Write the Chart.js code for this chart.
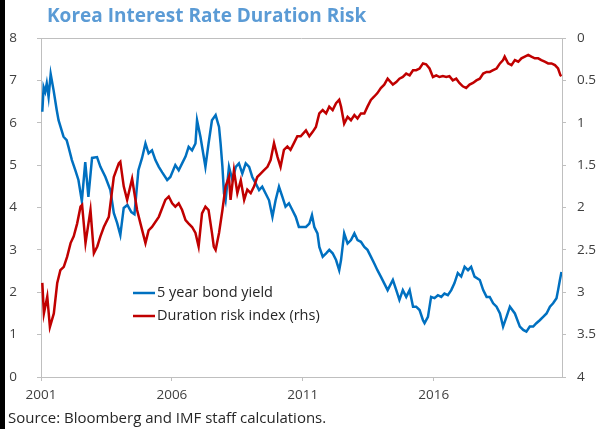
<!DOCTYPE html>
<html>
<head>
<meta charset="utf-8">
<script src="https://cdn.jsdelivr.net/npm/chart.js@4.4.1/dist/chart.umd.min.js"></script>
<style>
  html, body { margin: 0; padding: 0; background: #fff; }
  #wrap { position: relative; width: 605px; height: 429px; }
</style>
</head>
<body>
<div id="wrap"><canvas id="durChart" width="605" height="429"></canvas></div>
<script>
// values (x in decimal years)
const chartTitle = "Korea Interest Rate Duration Risk";
const sourceNote = "Source: Bloomberg and IMF staff calculations.";
const seriesNames = ["5 year bond yield", "Duration risk index (rhs)"];
const xTicks = [2001, 2006, 2011, 2016];

const blueYears = [2001.05, 2001.10, 2001.16, 2001.22, 2001.29, 2001.37, 2001.48, 2001.60, 2001.67, 2001.86,
  2001.98, 2002.05, 2002.18, 2002.31, 2002.43, 2002.56, 2002.69, 2002.81, 2002.95, 2003.14,
  2003.27, 2003.46, 2003.65, 2003.78, 2003.91, 2004.03, 2004.16, 2004.30, 2004.45, 2004.57,
  2004.72, 2004.86, 2004.99, 2005.11, 2005.24, 2005.37, 2005.50, 2005.63, 2005.82, 2005.94,
  2006.13, 2006.26, 2006.39, 2006.52, 2006.64, 2006.77, 2006.90, 2006.96, 2007.09, 2007.28,
  2007.40, 2007.53, 2007.67, 2007.80, 2007.86, 2007.93, 2007.99, 2008.05, 2008.18, 2008.31,
  2008.44, 2008.56, 2008.69, 2008.82, 2008.95, 2009.07, 2009.20, 2009.33, 2009.45, 2009.58,
  2009.71, 2009.84, 2009.96, 2010.09, 2010.22, 2010.34, 2010.47, 2010.60, 2010.73, 2010.85,
  2010.99, 2011.12, 2011.25, 2011.35, 2011.44, 2011.56, 2011.63, 2011.76, 2011.89, 2012.01,
  2012.14, 2012.27, 2012.39, 2012.46, 2012.58, 2012.71, 2012.84, 2012.97, 2013.09, 2013.22,
  2013.35, 2013.47, 2013.60, 2013.73, 2013.85, 2013.98, 2014.11, 2014.24, 2014.44, 2014.57,
  2014.69, 2014.82, 2014.95, 2015.08, 2015.21, 2015.33, 2015.46, 2015.59, 2015.65, 2015.78,
  2015.90, 2016.03, 2016.16, 2016.29, 2016.41, 2016.54, 2016.67, 2016.79, 2016.92, 2017.05,
  2017.18, 2017.31, 2017.43, 2017.56, 2017.76, 2017.89, 2018.02, 2018.14, 2018.27, 2018.40,
  2018.53, 2018.65, 2018.78, 2018.91, 2019.10, 2019.29, 2019.42, 2019.54, 2019.67, 2019.80,
  2019.92, 2020.05, 2020.18, 2020.31, 2020.44, 2020.56, 2020.69, 2020.75, 2020.82, 2020.88];
const bondYield = [6.26, 6.84, 6.73, 6.93, 6.61, 7.15, 6.77, 6.30, 6.06, 5.67,
  5.59, 5.43, 5.12, 4.88, 4.65, 4.15, 5.07, 4.25, 5.17, 5.19,
  4.96, 4.72, 4.41, 3.87, 3.63, 3.35, 3.99, 4.06, 3.89, 3.84,
  4.88, 5.17, 5.51, 5.28, 5.35, 5.12, 4.96, 4.83, 4.65, 4.72,
  5.00, 4.88, 5.04, 5.20, 5.43, 5.35, 5.51, 6.06, 5.67, 4.96,
  5.51, 6.06, 6.18, 5.90, 5.51, 4.96, 4.33, 4.17, 4.96, 4.65,
  4.96, 5.04, 4.80, 5.04, 4.96, 4.72, 4.57, 4.41, 4.49, 4.33,
  4.17, 3.78, 4.17, 4.49, 4.25, 4.02, 4.10, 3.94, 3.78, 3.54,
  3.54, 3.54, 3.62, 3.82, 3.54, 3.39, 3.07, 2.84, 2.92, 3.00,
  2.92, 2.76, 2.52, 2.76, 3.39, 3.15, 3.23, 3.39, 3.23, 3.19,
  3.07, 3.00, 2.84, 2.68, 2.52, 2.37, 2.21, 2.05, 2.29, 2.05,
  1.82, 2.05, 1.89, 2.05, 1.66, 1.66, 1.58, 1.34, 1.27, 1.42,
  1.89, 1.86, 1.93, 1.89, 1.97, 1.93, 2.05, 2.21, 2.45, 2.37,
  2.60, 2.52, 2.60, 2.37, 2.29, 2.05, 1.89, 1.89, 1.74, 1.66,
  1.50, 1.19, 1.42, 1.66, 1.50, 1.19, 1.11, 1.07, 1.19, 1.19,
  1.27, 1.34, 1.42, 1.50, 1.66, 1.74, 1.86, 2.05, 2.29, 2.48];

const redYears = [2001.05, 2001.11, 2001.24, 2001.34, 2001.49, 2001.62, 2001.74, 2001.87, 2002.00, 2002.13,
  2002.25, 2002.38, 2002.51, 2002.57, 2002.70, 2002.89, 2003.02, 2003.15, 2003.27, 2003.40,
  2003.59, 2003.78, 2003.97, 2004.03, 2004.16, 2004.29, 2004.48, 2004.67, 2004.80, 2004.99,
  2005.11, 2005.24, 2005.50, 2005.75, 2005.88, 2006.01, 2006.13, 2006.26, 2006.39, 2006.52,
  2006.64, 2006.77, 2006.90, 2007.02, 2007.15, 2007.28, 2007.40, 2007.53, 2007.60, 2007.67,
  2007.80, 2007.93, 2008.05, 2008.18, 2008.24, 2008.37, 2008.50, 2008.63, 2008.76, 2008.88,
  2009.01, 2009.14, 2009.26, 2009.39, 2009.52, 2009.65, 2009.77, 2009.90, 2010.03, 2010.15,
  2010.28, 2010.41, 2010.53, 2010.66, 2010.79, 2010.92, 2011.12, 2011.25, 2011.37, 2011.50,
  2011.63, 2011.76, 2011.89, 2012.01, 2012.14, 2012.27, 2012.39, 2012.46, 2012.58, 2012.71,
  2012.84, 2012.97, 2013.09, 2013.22, 2013.35, 2013.47, 2013.60, 2013.73, 2013.85, 2013.98,
  2014.11, 2014.24, 2014.44, 2014.57, 2014.69, 2014.82, 2014.95, 2015.08, 2015.21, 2015.33,
  2015.46, 2015.59, 2015.71, 2015.84, 2015.97, 2016.10, 2016.22, 2016.35, 2016.48, 2016.60,
  2016.73, 2016.86, 2016.98, 2017.11, 2017.24, 2017.37, 2017.50, 2017.63, 2017.76, 2017.89,
  2018.02, 2018.14, 2018.27, 2018.40, 2018.53, 2018.65, 2018.71, 2018.84, 2018.97, 2019.10,
  2019.23, 2019.35, 2019.48, 2019.61, 2019.73, 2019.86, 2019.99, 2020.11, 2020.24, 2020.37,
  2020.50, 2020.63, 2020.75, 2020.84, 2020.88];
const durationRisk = [2.89, 3.25, 3.05, 3.41, 3.25, 2.89, 2.74, 2.70, 2.58, 2.42,
  2.34, 2.19, 1.99, 1.97, 2.42, 2.03, 2.54, 2.46, 2.34, 2.23,
  2.11, 1.64, 1.48, 1.46, 1.75, 1.91, 1.66, 2.03, 2.19, 2.42,
  2.27, 2.23, 2.11, 1.91, 1.87, 1.95, 1.99, 1.95, 2.03, 2.15,
  2.19, 2.23, 2.30, 2.46, 2.07, 1.99, 2.03, 2.30, 2.46, 2.50,
  2.30, 2.03, 1.75, 1.64, 1.91, 1.56, 1.83, 1.68, 1.91, 1.79,
  1.83, 1.75, 1.64, 1.60, 1.56, 1.52, 1.44, 1.24, 1.40, 1.52,
  1.32, 1.28, 1.32, 1.24, 1.16, 1.16, 1.09, 1.16, 1.11, 1.05,
  0.89, 0.85, 0.89, 0.81, 0.85, 0.77, 0.73, 0.81, 1.01, 0.93,
  0.97, 0.91, 0.95, 0.89, 0.89, 0.81, 0.73, 0.69, 0.65, 0.59,
  0.55, 0.48, 0.55, 0.52, 0.48, 0.46, 0.42, 0.44, 0.38, 0.38,
  0.36, 0.30, 0.31, 0.36, 0.46, 0.44, 0.46, 0.45, 0.46, 0.45,
  0.50, 0.48, 0.53, 0.57, 0.59, 0.55, 0.53, 0.50, 0.48, 0.42,
  0.40, 0.40, 0.38, 0.36, 0.30, 0.26, 0.22, 0.30, 0.32, 0.26,
  0.28, 0.24, 0.22, 0.20, 0.22, 0.24, 0.24, 0.26, 0.28, 0.30,
  0.30, 0.32, 0.36, 0.44, 0.45];

const blueColor = "#0070C0";
const redColor = "#C00000";
const axisGrey = "#BFBFBF";
const labelColor = "#404040";
const fontFam = "'Open Sans', 'DejaVu Sans', sans-serif";

// title, source, inside legend, top frame line and left black strip
const extras = {
  id: "extras",
  afterDraw(chart) {
    const c = chart.ctx;
    const a = chart.chartArea;
    c.save();
    c.strokeStyle = axisGrey;
    c.lineWidth = 1;
    c.beginPath();
    c.moveTo(a.left, a.top + 0.5);
    c.lineTo(a.right, a.top + 0.5);
    c.stroke();

    c.fillStyle = "#5B9BD5";
    c.font = "bold 19px " + fontFam;
    c.textBaseline = "middle";
    c.textAlign = "left";
    c.fillText(chartTitle, 47, 17);

    c.fillStyle = "#262626";
    c.font = "15px " + fontFam;
    c.fillText(sourceNote, 8, 419);

    const cols = [blueColor, redColor];
    c.font = "14.5px " + fontFam;
    seriesNames.forEach((name, i) => {
      const y = 293 + i * 23;
      c.strokeStyle = cols[i];
      c.lineWidth = 2.5;
      c.beginPath();
      c.moveTo(133, y);
      c.lineTo(155, y);
      c.stroke();
      c.fillStyle = "#262626";
      c.fillText(name, 157, y);
    });

    c.fillStyle = "#000";
    c.fillRect(0, 0, 5, 429);
    c.restore();
  }
};

new Chart(document.getElementById("durChart").getContext("2d"), {
  type: "line",
  data: {
    datasets: [
      {
        label: seriesNames[1],
        data: redYears.map((x, i) => ({ x: x, y: durationRisk[i] })),
        yAxisID: "yR",
        borderColor: redColor,
        borderWidth: 2.5,
        pointRadius: 0,
        fill: false
      },
      {
        label: seriesNames[0],
        data: blueYears.map((x, i) => ({ x: x, y: bondYield[i] })),
        yAxisID: "yL",
        borderColor: blueColor,
        borderWidth: 2.5,
        pointRadius: 0,
        fill: false
      }
    ]
  },
  options: {
    responsive: false,
    animation: false,
    devicePixelRatio: 1,
    layout: { padding: { top: 38, left: 0, right: 0, bottom: 0 } },
    plugins: { legend: { display: false }, tooltip: { enabled: false } },
    scales: {
      x: {
        type: "linear",
        min: 2001,
        max: 2020.9,
        afterBuildTicks: (s) => { s.ticks = xTicks.map(v => ({ value: v })); },
        afterFit: (s) => { s.height = 52; },
        grid: { drawOnChartArea: false, tickLength: 4, color: axisGrey },
        border: { color: axisGrey },
        ticks: {
          padding: 6,
          color: labelColor,
          font: { family: fontFam, size: 13.5 },
          maxRotation: 0,
          callback: (v) => String(v)
        }
      },
      yL: {
        position: "left",
        min: 0,
        max: 8,
        afterFit: (s) => { s.width = 41; },
        grid: { drawOnChartArea: false, tickLength: 4, color: axisGrey },
        border: { color: axisGrey },
        ticks: { stepSize: 1, padding: 20, color: labelColor, font: { family: fontFam, size: 13.5 } }
      },
      yR: {
        position: "right",
        reverse: true,
        min: 0,
        max: 4,
        afterFit: (s) => { s.width = 43; },
        grid: { drawOnChartArea: false, tickLength: 4, color: axisGrey },
        border: { color: axisGrey },
        ticks: {
          stepSize: 0.5,
          padding: 11,
          color: labelColor,
          font: { family: fontFam, size: 13.5 },
          callback: (v) => String(v)
        }
      }
    }
  },
  plugins: [extras]
});
</script>
</body>
</html>
